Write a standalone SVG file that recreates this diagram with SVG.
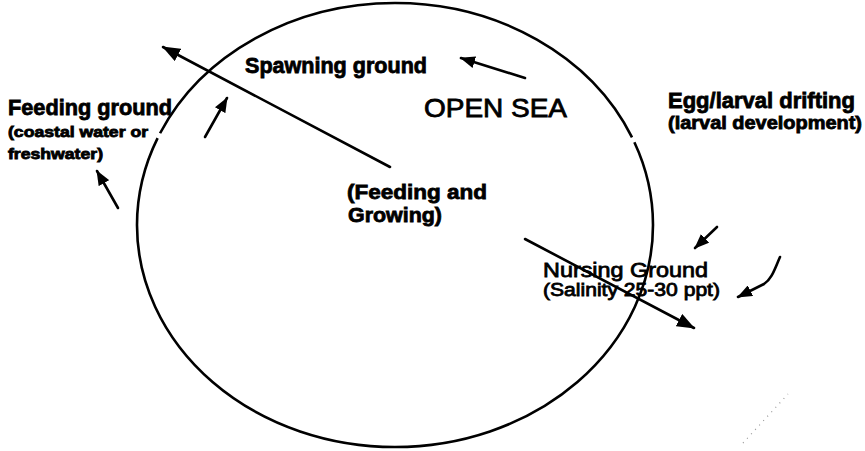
<svg xmlns="http://www.w3.org/2000/svg" width="865" height="451" viewBox="0 0 865 451">
  <style>
    .t { font-family: "Liberation Sans", Arial, sans-serif; fill: #000; }
    .b { font-weight: bold; stroke: #000; stroke-width: 0.8; }
    .r { font-weight: normal; stroke: #000; stroke-width: 0.8; }
    .ln { stroke: #000; stroke-width: 2.6; fill: none; stroke-linecap: round; }
  </style>
  <defs>
    <marker id="ah" markerUnits="userSpaceOnUse" markerWidth="18" markerHeight="14" refX="17" refY="7" orient="auto">
      <path d="M0,0 L18,7 L0,14 z" fill="#000"/>
    </marker>
    <marker id="ahs" markerUnits="userSpaceOnUse" markerWidth="15" markerHeight="12" refX="14" refY="6" orient="auto">
      <path d="M0,0 L15,6 L0,12 z" fill="#000"/>
    </marker>
  </defs>
  <rect width="865" height="451" fill="#fff"/>
  <g id="open-sea">
    <ellipse cx="395" cy="225" rx="258" ry="222" fill="none" stroke="#000" stroke-width="2.6" pathLength="360" stroke-dasharray="201.5 1.3 135.5 1.3 20.4"/>
    <text class="t r" x="424" y="117" font-size="26" textLength="143" lengthAdjust="spacingAndGlyphs">OPEN SEA</text>
  </g>
  <g id="spawning-ground">
    <text class="t b" x="245" y="73" font-size="22" textLength="182" lengthAdjust="spacingAndGlyphs">Spawning ground</text>
  </g>
  <g id="feeding-ground">
    <text class="t b" x="8" y="115" font-size="22" textLength="164" lengthAdjust="spacingAndGlyphs">Feeding ground</text>
    <text class="t b" x="8" y="137" font-size="14" textLength="140" lengthAdjust="spacingAndGlyphs">(coastal water or</text>
    <text class="t b" x="8" y="159" font-size="14" textLength="95" lengthAdjust="spacingAndGlyphs">freshwater)</text>
  </g>
  <g id="egg-larval-drifting">
    <text class="t b" x="668" y="108" font-size="22" textLength="187" lengthAdjust="spacingAndGlyphs">Egg/larval drifting</text>
    <text class="t b" x="668" y="129" font-size="18" textLength="194" lengthAdjust="spacingAndGlyphs">(larval development)</text>
  </g>
  <g id="feeding-growing">
    <text class="t b" x="347" y="199" font-size="21" textLength="140" lengthAdjust="spacingAndGlyphs">(Feeding and</text>
    <text class="t b" x="348" y="222" font-size="21" textLength="94" lengthAdjust="spacingAndGlyphs">Growing)</text>
  </g>
  <g id="nursing-ground">
    <text class="t r" x="543" y="277" font-size="21" textLength="165" lengthAdjust="spacingAndGlyphs">Nursing Ground</text>
    <text class="t r" x="543" y="296" font-size="18" textLength="177" lengthAdjust="spacingAndGlyphs">(Salinity 25-30 ppt)</text>
  </g>
  <g id="connectors">
    <line class="ln" x1="390" y1="167" x2="163" y2="47" marker-end="url(#ah)"/>
    <line class="ln" x1="205" y1="137" x2="227" y2="98" marker-end="url(#ahs)"/>
    <line class="ln" x1="525" y1="78" x2="461" y2="58" marker-end="url(#ahs)"/>
    <line class="ln" x1="118" y1="208" x2="97" y2="171" marker-end="url(#ahs)"/>
    <line class="ln" x1="525" y1="239" x2="694" y2="328" marker-end="url(#ah)"/>
    <line class="ln" x1="717" y1="227" x2="695" y2="248" marker-end="url(#ahs)"/>
    <path class="ln" d="M780,257 C775,268 772,279 764,284 L738,297" marker-end="url(#ahs)"/>
    <path d="M743,443 L788,394" stroke="#999" stroke-width="1.2" stroke-dasharray="1 5" fill="none"/>
  </g>
</svg>
